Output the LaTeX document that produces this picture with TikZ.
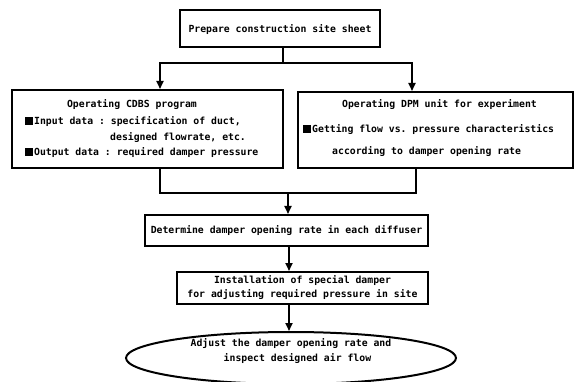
\documentclass[tikz,border=0pt]{standalone}
\usepackage{fontspec}
\setmonofont{DejaVu Sans Mono}
\usetikzlibrary{arrows.meta,positioning,calc,shapes.geometric}
\newcommand{\sqmark}{\rule[-0.5pt]{8pt}{8pt}\hspace{1pt}}
\tikzset{
  flowbox/.style={draw,line width=2pt,rectangle,inner sep=0pt,align=center,
    font=\ttfamily\bfseries\fontsize{9.8}{14}\selectfont},
  flowtxt/.style={inner sep=0pt,font=\ttfamily\bfseries\fontsize{9.8}{15.5}\selectfont},
  link/.style={line width=1.8pt},
}

\begin{document}
\begin{tikzpicture}[x=1pt,y=-1pt,>={Triangle[length=8pt,width=7pt]}]
  \useasboundingbox (0,0) rectangle (578,382);
  % boxes
  \node[flowbox,minimum width=200pt,minimum height=37pt,text height=10pt] (sheet) at (280,28.5) {Prepare construction site sheet};
  \node[flowbox,minimum width=271pt,minimum height=78pt] (cdbs) at (147.5,129) {};
  \node[flowbox,minimum width=275pt,minimum height=76pt] (dpm) at (435.5,130) {};
  \node[flowbox,minimum width=283pt,minimum height=31pt] (damper) at (286.5,230.5) {Determine damper opening rate in each diffuser};
  \node[flowbox,minimum width=251pt,minimum height=32pt] (install) at (302.5,288) {Installation of special damper\\for adjusting required pressure in site};
  \node[draw,ellipse,line width=2pt,inner sep=0pt,minimum width=330pt,minimum height=52pt] (adjust) at (291,358) {};
  % texts in the two program boxes
  \node[flowtxt] (cdbstitle) at (132,105) {Operating CDBS program};
  \node[flowtxt,anchor=west] (cdbsin) at (25,122) {\sqmark Input data : specification of duct,};
  \node[flowtxt,anchor=west] (cdbsin2) at (110,138) {designed flowrate, etc.};
  \node[flowtxt,anchor=west] (cdbsout) at (25,153) {\sqmark Output data : required damper pressure};
  \node[flowtxt] (dpmtitle) at (439.5,105) {Operating DPM unit for experiment};
  \node[flowtxt,anchor=west] (dpmget) at (303,130) {\sqmark Getting flow vs. pressure characteristics};
  \node[flowtxt,anchor=west] (dpmget2) at (332,152) {according to damper opening rate};
  \node[flowtxt,align=left] (adjusttxt) at (291,351) {Adjust the damper opening rate and\\\hspace*{33pt}inspect designed air flow};
  % connectors
  \coordinate (split) at (283,63);
  \coordinate (dropL) at (160,63);
  \coordinate (dropR) at (412,63);
  \draw[link] (sheet.south -| split) -- (split);
  \draw[link,->] (split) -- (dropL) -- (dropL |- cdbs.north);
  \draw[link,->] (split) -- (dropR) -- (dropR |- dpm.north);
  \coordinate (joinL) at (160,193);
  \coordinate (joinR) at (416,193);
  \coordinate (merge) at (288,193);
  \draw[link] (cdbs.south -| joinL) -- (joinL) -- (joinR) -- (dpm.south -| joinR);
  \draw[link,->] (merge) -- (merge |- damper.north);
  \coordinate (col) at (289,0);
  \draw[link,->] (damper.south -| col) -- (install.north -| col);
  \draw[link,->] (install.south -| col) -- (adjust.north -| col);
\end{tikzpicture}
\end{document}
